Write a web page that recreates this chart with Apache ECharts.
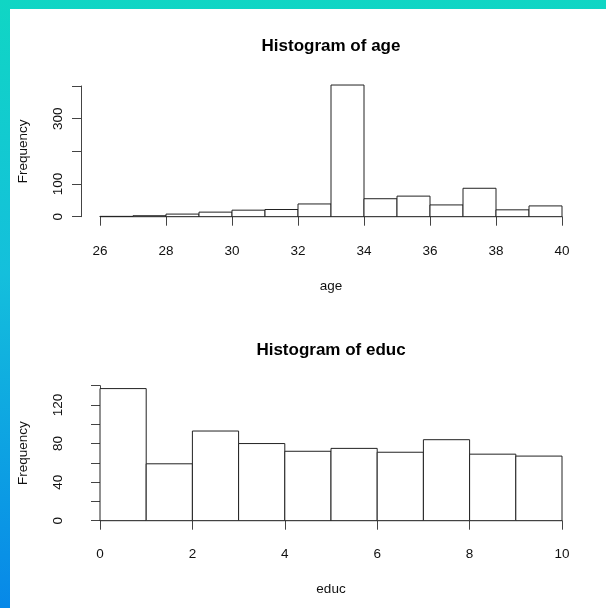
<!DOCTYPE html>
<html>
<head>
<meta charset="utf-8">
<script src="https://cdn.jsdelivr.net/npm/echarts@6/dist/echarts.min.js"></script>
<style>
  html, body { margin: 0; padding: 0; width: 606px; height: 608px; overflow: hidden; }
  body { background: linear-gradient(to bottom, #10d6c4 0%, #14bfdc 45%, #0788e8 100%); position: relative; }
  #panel { position: absolute; left: 10px; top: 9px; right: 0; bottom: 0; background: #fff; }
  #chart { position: absolute; left: 0; top: 0; width: 606px; height: 608px; }
</style>
</head>
<body>
<div id="panel"></div>
<div id="chart"></div>
<script>
// ---- data ----
var ageBreaks = [26, 27, 28, 29, 30, 31, 32, 33, 34, 35, 36, 37, 38, 39, 40];
var ageCounts = [1, 3, 8, 14, 20, 22, 39, 403, 55, 63, 36, 87, 21, 33];
var ageYLabels = [0, 100, 300];

var educBreaks = [0, 1, 2, 3, 4, 5, 6, 7, 8, 9, 10];
var educCounts = [137, 59, 93, 80, 72, 75, 71, 84, 69, 67];
var educYLabels = [0, 40, 80, 120];

var titles = ['Histogram of age', 'Histogram of educ'];

function toBins(breaks, counts) {
  var out = [];
  for (var i = 0; i < counts.length; i++) out.push([breaks[i], breaks[i + 1], counts[i]]);
  return out;
}

function renderHist(params, api) {
  var p0 = api.coord([api.value(0), api.value(2)]);
  var p1 = api.coord([api.value(1), 0]);
  return {
    type: 'rect',
    shape: { x: p0[0], y: p0[1], width: p1[0] - p0[0], height: p1[1] - p0[1] },
    style: { fill: '#ffffff', stroke: '#222222', lineWidth: 1 }
  };
}

var FONT = 'Liberation Sans, Arial, sans-serif';
var FS = 13.5;
var axisColor = '#444';

function xAxisDef(gridIndex, name, min, max) {
  return {
    type: 'value', gridIndex: gridIndex, min: min, max: max, interval: 2,
    offset: gridIndex === 0 ? 6 : 5,
    name: name, nameLocation: 'middle', nameGap: 57,
    nameTextStyle: { fontFamily: FONT, fontSize: FS, color: '#111' },
    axisLine: { show: true, lineStyle: { color: axisColor, width: 1 } },
    axisTick: { show: true, length: 9, lineStyle: { color: axisColor } },
    axisLabel: { fontFamily: FONT, fontSize: FS, color: '#111', margin: 22 },
    splitLine: { show: false }
  };
}

function yAxisDef(gridIndex, max, interval, labels) {
  return {
    type: 'value', gridIndex: gridIndex, min: 0, max: max, interval: interval,
    offset: 19,
    name: 'Frequency', nameLocation: 'middle', nameGap: 51, nameRotate: 90,
    nameTextStyle: { fontFamily: FONT, fontSize: FS, color: '#111' },
    axisLine: { show: true, lineStyle: { color: axisColor, width: 1 } },
    axisTick: { show: true, length: 9, lineStyle: { color: axisColor } },
    axisLabel: {
      fontFamily: FONT, fontSize: FS, color: '#111', rotate: 90, margin: 16,
      formatter: function (v) { return labels.indexOf(v) >= 0 ? String(v) : ''; }
    },
    splitLine: { show: false }
  };
}

var chart = echarts.init(document.getElementById('chart'), null, { renderer: 'canvas' });
chart.setOption({
  backgroundColor: 'transparent',
  animation: false,
  graphic: [
    { type: 'text', x: 331, y: 46,
      style: { text: titles[0], align: 'center', verticalAlign: 'middle',
               font: 'bold 17px ' + FONT, fill: '#000' } },
    { type: 'text', x: 331, y: 350,
      style: { text: titles[1], align: 'center', verticalAlign: 'middle',
               font: 'bold 17px ' + FONT, fill: '#000' } }
  ],
  grid: [
    { left: 100, right: 44, top: 86, bottom: 391.3 },
    { left: 100, right: 44, top: 385.7, bottom: 87.3 }
  ],
  xAxis: [ xAxisDef(0, 'age', 26, 40), xAxisDef(1, 'educ', 0, 10) ],
  yAxis: [ yAxisDef(0, 400, 100, ageYLabels), yAxisDef(1, 140, 20, educYLabels) ],
  series: [
    { type: 'custom', xAxisIndex: 0, yAxisIndex: 0, clip: false,
      renderItem: renderHist, data: toBins(ageBreaks, ageCounts) },
    { type: 'custom', xAxisIndex: 1, yAxisIndex: 1, clip: false,
      renderItem: renderHist, data: toBins(educBreaks, educCounts) }
  ]
});
</script>
</body>
</html>
